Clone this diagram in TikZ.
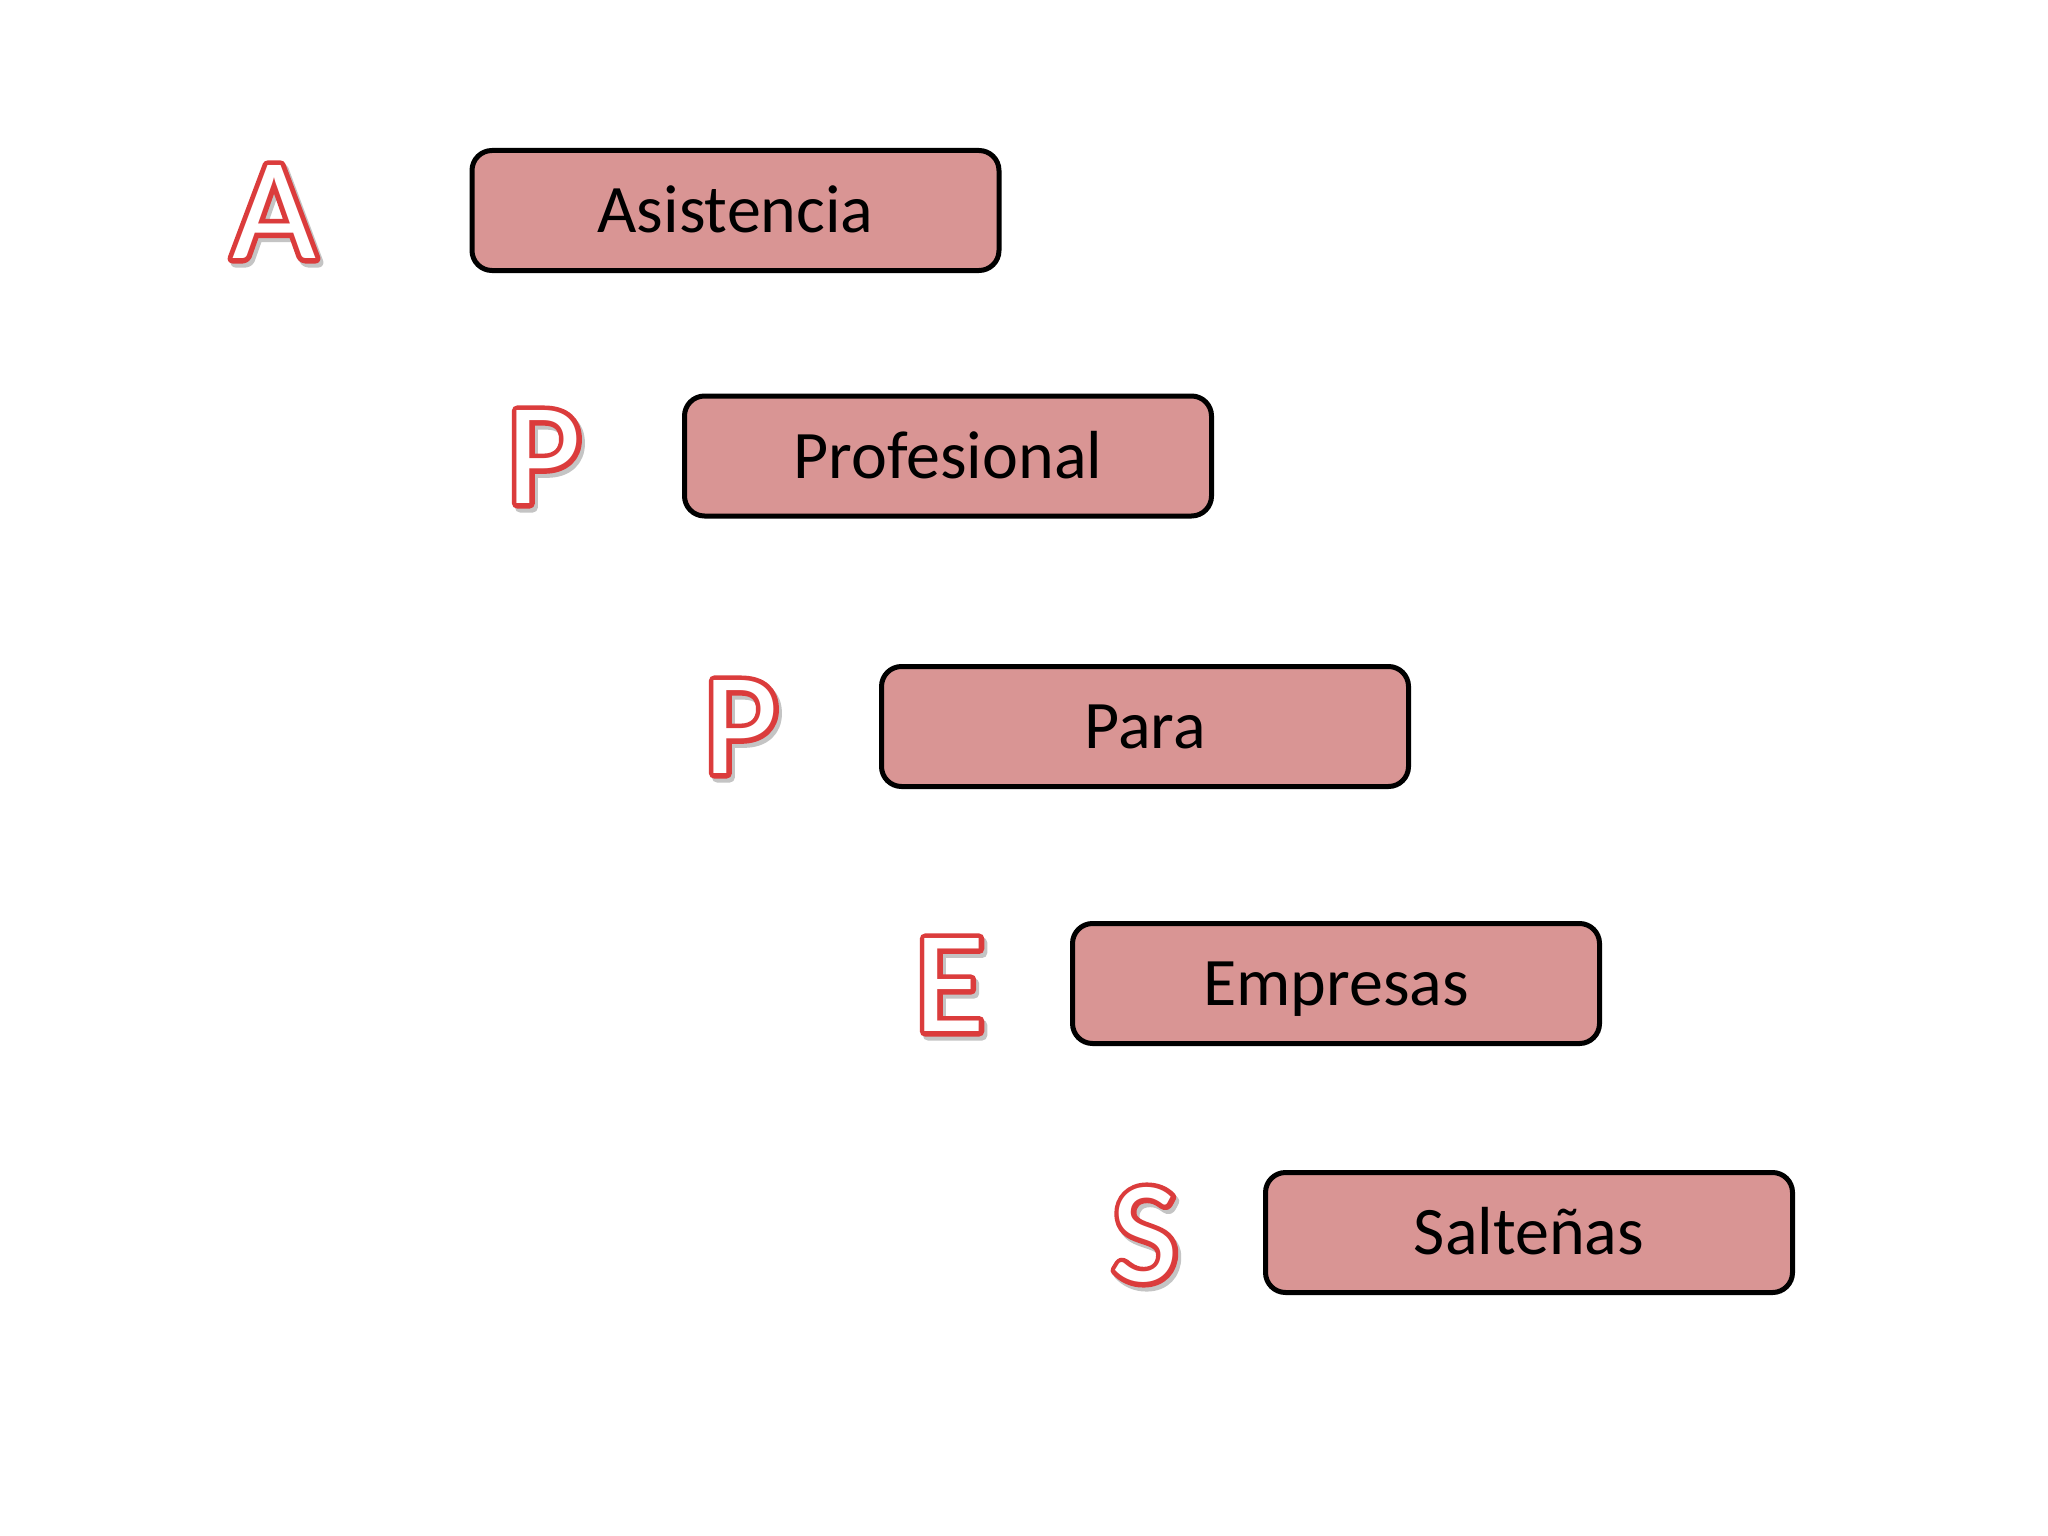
\documentclass[tikz,border=0pt]{standalone}
\usepackage{fontspec}
\setmainfont{Carlito}
\definecolor{boxfill}{HTML}{D99594}
\definecolor{shade}{HTML}{C4C4C4}
\newcommand\strokeon[1]{\special{pdf:code 2 Tr #1 w 1 j}}
\newcommand\strokeoff{\special{pdf:code 0 Tr}}
\newcommand\outletter[4]{%
  \node[bigletter] (#1) at (#2,#3) {%
    \rlap{\hspace{3pt}\raisebox{-4pt}{\color{shade}\strokeon{10}#4\strokeoff}}%
    \rlap{\strokeon{10}\special{pdf:code 0.86 0.235 0.235 RG}#4\strokeoff}%
    #4};
}
\begin{document}
\begin{tikzpicture}[x=1pt,y=-1pt,
  wordbox/.style={draw=black, line width=5pt, rounded corners=20pt, fill=boxfill,
    minimum width=527pt, minimum height=120pt, inner sep=0pt,
    font=\fontsize{68}{72}\selectfont, text height=44pt, text depth=0pt},
  bigletter/.style={font=\fontsize{145}{150}\selectfont, inner sep=0pt, text=white}]
\useasboundingbox (0,0) rectangle (2048,1536);
\fill[white] (0,0) rectangle (2048,1536);

\node[wordbox] (b1) at (735.5,210.5) {Asistencia};
\node[wordbox] (b2) at (948,456) {Profesional};
\node[wordbox] (b3) at (1145,726.5) {Para};
\node[wordbox] (b4) at (1336,983.5) {Empresas};
\node[wordbox] (b5) at (1529,1232.5) {Salteñas};

\outletter{l1}{274}{214}{A}
\outletter{l2}{544}{459}{P}
\outletter{l3}{741}{729}{P}
\outletter{l4}{950}{987}{E}
\outletter{l5}{1145}{1237}{S}
\end{tikzpicture}
\end{document}
